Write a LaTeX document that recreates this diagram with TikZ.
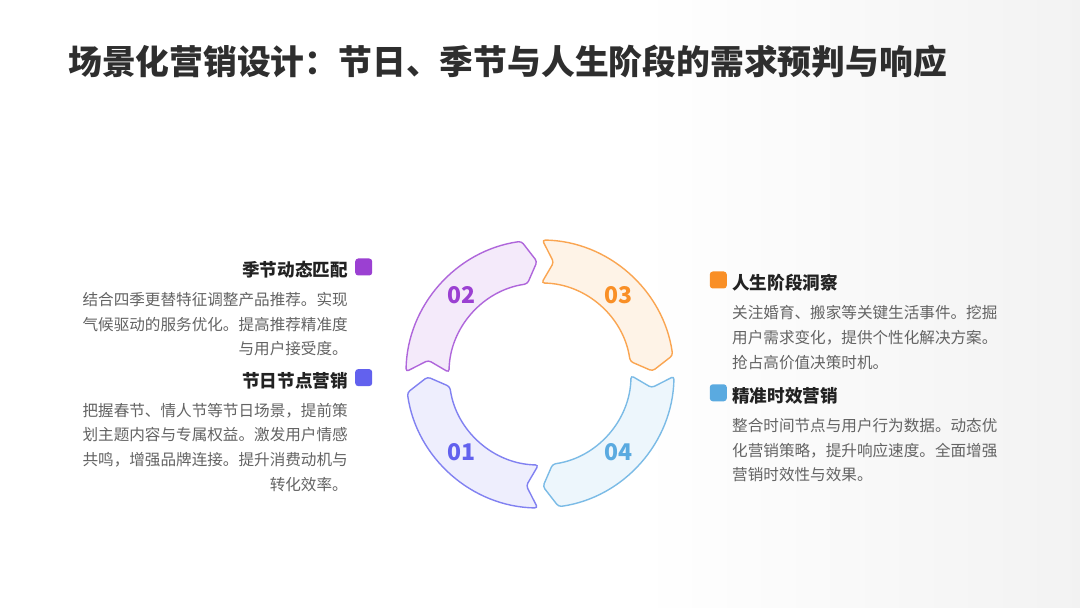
\documentclass[tikz,border=0pt]{standalone}
\usepackage{fontspec}
\setmainfont{Noto Sans CJK SC}
\usetikzlibrary{positioning, calc}
\definecolor{TitleDark}{HTML}{2E2E2E}
\definecolor{HeadDark}{HTML}{222222}
\definecolor{BodyGray}{HTML}{636363}
\definecolor{SeasonPurple}{HTML}{9B40D2}
\definecolor{FestivalIndigo}{HTML}{6261EE}
\definecolor{LifeOrange}{HTML}{F98F26}
\definecolor{TimeBlue}{HTML}{5AAAE0}

\begin{document}
\begin{tikzpicture}[x=1pt, y=1pt,
        title/.style={font=\fontsize{33.8}{40}\selectfont\bfseries, text=TitleDark, inner sep=0pt},
        head/.style={font=\fontsize{17.6}{21}\selectfont\bfseries, text=HeadDark, inner sep=0pt},
        body/.style={font=\fontsize{15.6}{24.7}\selectfont, text=BodyGray, inner sep=0pt},
        marker/.style={rectangle, rounded corners=3pt, minimum size=17pt, inner sep=0pt, fill=#1},
        segment/.style={draw=#1!80!white, fill=#1!11!white, line width=1.4pt, rounded corners=3pt},
        num/.style={font=\fontsize{23}{27}\selectfont\bfseries, text=#1}]

        \fill[white] (0,0) rectangle (1080,608);
        \fill[left color=white, right color=black!5] (640,0) rectangle (1080,608);
        \useasboundingbox (0,0) rectangle (1080,608);

        \node[title, anchor=west] (title) at (68,546) {场景化营销设计：节日、季节与人生阶段的需求预判与响应};

        % ring of four arrows, clockwise
        \coordinate (ring) at (540,234);
        \foreach \base/\col/\lbl/\name in {270/FestivalIndigo/01/s1, 180/SeasonPurple/02/s2, 90/LifeOrange/03/s3, 0/TimeBlue/04/s4} {
            \draw[segment=\col] ($(ring)+(\base-1:134)$) arc[start angle=\base-1, end angle=\base-82, radius=134]
                -- ($(ring)+(\base-88.5:112.5)$) -- ($(ring)+(\base-82:91)$)
                arc[start angle=\base-82, end angle=\base-1, radius=91] -- ($(ring)+(\base-7:112.5)$) -- cycle;
            \node[num=\col] (\name) at ($(ring)+(\base-45:111)$) {\lbl};
        }

        % left column
        \node[head, anchor=east] (season) at (348,338) {季节动态匹配};
        \node[marker=SeasonPurple, right=7pt of season, yshift=3pt] (seasonmark) {};
        \node[body, below=13.5pt of season.south east, anchor=north east, align=right] (seasontxt)
            {结合四季更替特征调整产品推荐。实现\\气候驱动的服务优化。提高推荐精准度\\与用户接受度。};

        \node[head, below=15.5pt of seasontxt.south east, anchor=north east] (festival) {节日节点营销};
        \node[marker=FestivalIndigo, right=7pt of festival, yshift=3pt] (festivalmark) {};
        \node[body, below=13.5pt of festival.south east, anchor=north east, align=right] (festivaltxt)
            {把握春节、情人节等节日场景，提前策\\划主题内容与专属权益。激发用户情感\\共鸣，增强品牌连接。提升消费动机与\\转化效率。};

        % right column
        \node[head, anchor=west] (life) at (732,325) {人生阶段洞察};
        \node[marker=LifeOrange, left=5pt of life, yshift=3pt] (lifemark) {};
        \node[body, below=13.5pt of life.south west, anchor=north west, align=left] (lifetxt)
            {关注婚育、搬家等关键生活事件。挖掘\\用户需求变化，提供个性化解决方案。\\抢占高价值决策时机。};

        \node[head, below=17.5pt of lifetxt.south west, anchor=north west] (timely) {精准时效营销};
        \node[marker=TimeBlue, left=5pt of timely, yshift=3pt] (timelymark) {};
        \node[body, below=13.5pt of timely.south west, anchor=north west, align=left] (timelytxt)
            {整合时间节点与用户行为数据。动态优\\化营销策略，提升响应速度。全面增强\\营销时效性与效果。};
    \end{tikzpicture}
\end{document}
